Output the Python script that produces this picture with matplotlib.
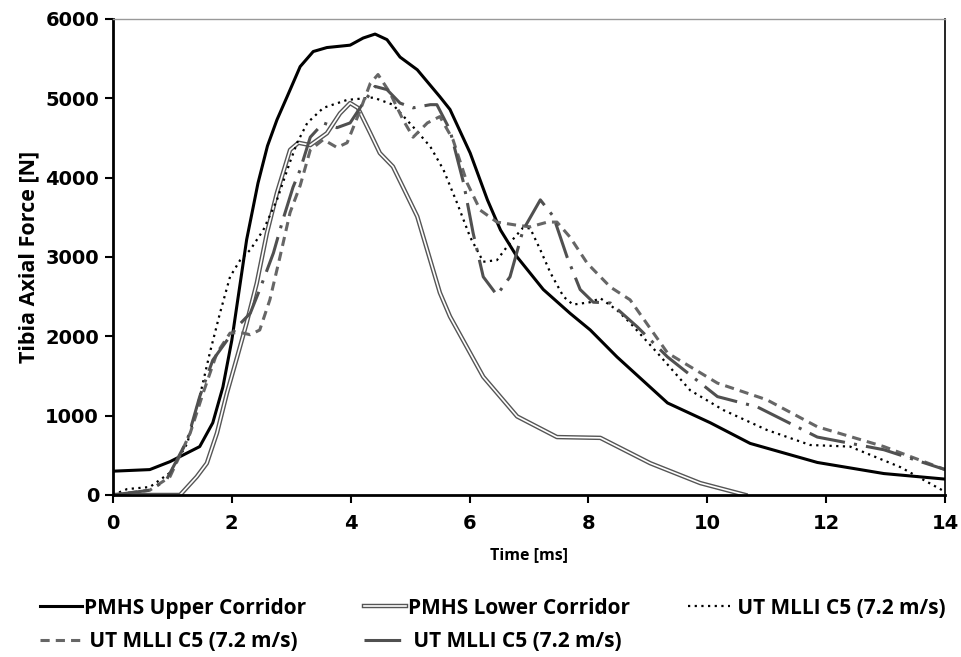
import matplotlib
matplotlib.use("Agg")
import matplotlib.pyplot as plt
from matplotlib.lines import Line2D
from matplotlib.legend_handler import HandlerTuple

FONT = ['Open Sans', 'DejaVu Sans']
TICK_FONT = ['DejaVu Sans']
plt.rcParams['font.family'] = FONT
plt.rcParams['font.weight'] = 'bold'

# PMHS upper corridor
upper_t = [0, 0.62, 0.96, 1.25, 1.46, 1.68, 1.85, 2.0, 2.1, 2.25, 2.36, 2.44, 2.6, 2.76, 2.93, 3.15,
           3.37, 3.6, 3.99, 4.21, 4.41, 4.61, 4.83, 5.12, 5.5, 5.67, 6.01, 6.3, 6.52, 6.8, 7.24, 7.69,
           8.03, 8.48, 9.33, 10.05, 10.72, 11.85, 12.97, 14.0]
upper_f = [300, 320, 420, 530, 610, 910, 1360, 1950, 2460, 3220, 3630, 3930, 4400, 4730, 5020, 5400,
           5590, 5640, 5670, 5760, 5810, 5740, 5520, 5360, 5020, 4860, 4310, 3720, 3340, 3000, 2590, 2290,
           2080, 1740, 1160, 910, 650, 410, 270, 200]

# PMHS lower corridor
lower_t = [0, 1.13, 1.41, 1.58, 1.75, 1.92, 2.09, 2.25, 2.42, 2.59, 2.76, 2.98, 3.12, 3.32, 3.6,
           3.82, 3.99, 4.12, 4.33, 4.49, 4.71, 4.88, 5.12, 5.5, 5.67, 6.23, 6.8, 7.47, 8.2, 9.04, 9.88,
           10.64]
lower_f = [0, 0, 230, 400, 780, 1290, 1740, 2170, 2670, 3300, 3810, 4350, 4440, 4410, 4560,
           4810, 4940, 4880, 4560, 4310, 4140, 3880, 3510, 2550, 2250, 1490, 990, 730, 720, 400, 150,
           0]

# UT MLLI C5 dotted
dot_t = [0, 0.24, 0.62, 0.96, 1.25, 1.46, 1.63, 1.8, 1.97, 2.14, 2.31, 2.53, 2.76, 2.98, 3.1, 3.27,
         3.54, 3.94, 4.38, 4.71, 5.05, 5.34, 5.56, 5.79, 6.01, 6.23, 6.46, 6.68, 6.9, 7.02, 7.19, 7.36,
         7.58, 7.74, 8.03, 8.2, 8.48, 8.7, 9.16, 9.71, 10.27, 11.0, 11.73, 12.4, 13.25, 14.0]
dot_f = [0, 75, 100, 280, 650, 1240, 1790, 2290, 2750, 2960, 3090, 3340, 3720, 4200, 4440, 4690,
         4880, 4980, 5010, 4920, 4640, 4390, 4100, 3680, 3250, 2940, 2960, 3180, 3370, 3360, 3090, 2800,
         2500, 2400, 2430, 2480, 2330, 2170, 1790, 1320, 1070, 820, 630, 610, 350, 40]

# UT MLLI C5 short dash
dash_t = [0, 0.62, 0.96, 1.3, 1.52, 1.75, 1.97, 2.14, 2.31, 2.47, 2.64, 2.81, 2.98, 3.15, 3.32,
          3.54, 3.77, 3.94, 4.16, 4.33, 4.46, 4.66, 4.88, 5.05, 5.29, 5.5, 5.72, 5.96, 6.18, 6.46,
          6.8, 7.02, 7.31, 7.47, 7.69, 7.98, 8.37, 8.7, 9.33, 10.17, 11.0, 11.85, 12.97, 14.0]
dash_f = [0, 60, 230, 780, 1290, 1790, 2040, 2050, 2020, 2080, 2460, 3000, 3560, 3900, 4350,
          4480, 4380, 4440, 4850, 5190, 5300, 5070, 4730, 4510, 4690, 4770, 4480, 3930, 3590, 3440,
          3400, 3380, 3440, 3440, 3250, 2920, 2620, 2460, 1790, 1410, 1200, 860, 610, 320]

# UT MLLI C5 dash-dot
dd_t = [0, 0.62, 0.9, 1.25, 1.46, 1.68, 1.92, 2.09, 2.31, 2.47, 2.7, 2.86, 3.03, 3.15, 3.32, 3.54,
        3.77, 3.99, 4.21, 4.41, 4.61, 4.83, 5.05, 5.34, 5.45, 5.67, 5.9, 6.06, 6.23, 6.46, 6.68, 6.9,
        7.19, 7.41, 7.64, 7.86, 8.08, 8.37, 8.82, 9.33, 10.17, 10.84, 11.85, 12.97, 14.0]
dd_f = [0, 60, 190, 690, 1240, 1700, 1950, 2120, 2290, 2590, 3050, 3470, 3880, 4100, 4510, 4690,
        4630, 4690, 4940, 5150, 5110, 4940, 4880, 4920, 4920, 4600, 3930, 3300, 2750, 2520, 2750, 3340,
        3720, 3510, 3000, 2590, 2430, 2420, 2120, 1740, 1240, 1110, 730, 570, 320]

fig = plt.figure(figsize=(9.61, 6.57), dpi=100)
ax = fig.add_axes([0.1175, 0.2466, 0.866, 0.7245])

line_upper = dict(color='black', lw=2.2)
line_lower_out = dict(color='#555555', lw=3.2)
line_lower_in = dict(color='white', lw=1.2)
line_dot = dict(color='black', lw=1.6, linestyle=(0, (1, 2)))
line_dash = dict(color='#666666', lw=2.2, linestyle=(0, (3, 2)))
line_dd = dict(color='#505050', lw=2.2, linestyle=(0, (12, 3, 1, 3)))

ax.plot(upper_t, upper_f, **line_upper)
ax.plot(lower_t, lower_f, **line_lower_out)
ax.plot(lower_t, lower_f, **line_lower_in)
ax.plot(dot_t, dot_f, **line_dot)
ax.plot(dash_t, dash_f, **line_dash)
ax.plot(dd_t, dd_f, **line_dd)

ax.set_xlim(0, 14)
ax.set_ylim(0, 6000)
ax.set_xticks(range(0, 15, 2))
ax.set_yticks(range(0, 6001, 1000))
ax.tick_params(axis='both', direction='out', length=6, width=1.5, labelsize=14)
ax.tick_params(axis='y', pad=4)
ax.tick_params(axis='x', pad=8)
for lbl in ax.get_xticklabels() + ax.get_yticklabels():
    lbl.set_fontweight('bold')
    lbl.set_family(TICK_FONT)
ax.spines['left'].set_linewidth(2)
ax.spines['bottom'].set_linewidth(2)
ax.spines['top'].set_linewidth(1)
ax.spines['top'].set_color('#999999')
ax.spines['right'].set_linewidth(1.2)

ax.set_xlabel('Time [ms]', fontsize=11.5, fontweight='bold', labelpad=10)
ax.set_ylabel('Tibia Axial Force [N]', fontsize=15.5, fontweight='bold', labelpad=4)

h_upper = Line2D([], [], **line_upper)
h_lower = (Line2D([], [], **line_lower_out), Line2D([], [], **line_lower_in))
h_dot = Line2D([], [], **line_dot)
h_dash = Line2D([], [], **line_dash)
h_dd = Line2D([], [], **line_dd)

lab = 'UT MLLI C5 (7.2 m/s)'
# column-major order so rows read: upper, lower, dot / dash, dash-dot
handles = [h_upper, h_dash, h_lower, h_dd, h_dot]
labels = ['PMHS Upper Corridor', ' ' + lab, 'PMHS Lower Corridor', ' ' + lab, ' ' + lab]
fig.legend(handles, labels,
           handler_map={tuple: HandlerTuple(ndivide=1, pad=0)},
           loc='upper left', bbox_to_anchor=(0.022, 0.119), ncol=3, frameon=False,
           prop={'weight': 'bold', 'size': 15, 'family': FONT},
           handlelength=2.0, handletextpad=0.1, columnspacing=2.8, labelspacing=0.62)

fig.savefig('out.png', dpi=100)
